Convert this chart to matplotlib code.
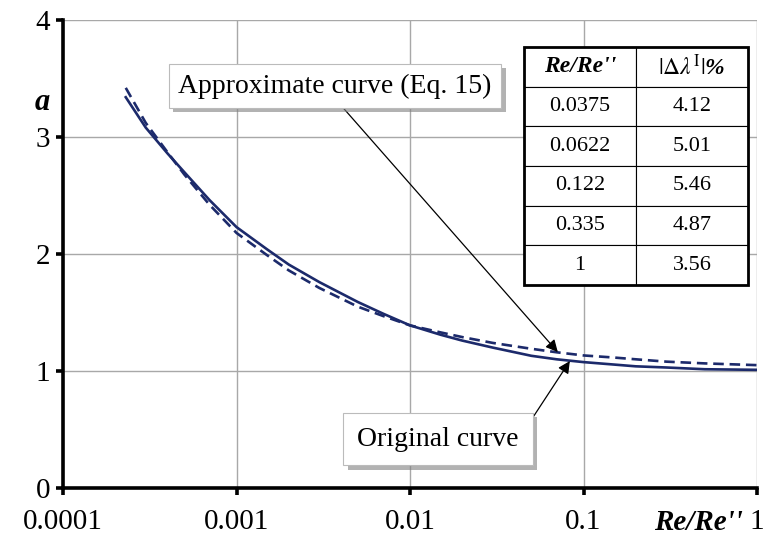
import numpy as np
import matplotlib
matplotlib.use('Agg')
import matplotlib.pyplot as plt
import matplotlib.patheffects as pe
from matplotlib.patches import Rectangle

plt.rcParams['font.family'] = 'Liberation Serif'
plt.rcParams['mathtext.fontset'] = 'stix'

# Original curve (solid) and approximate curve, Eq. 15 (dashed)
re_ratio = [2.3e-4, 3e-4, 4e-4, 5e-4, 7e-4, 1e-3, 1.5e-3, 2e-3, 3e-3, 5e-3,
            7e-3, 1e-2, 1.5e-2, 2e-2, 3e-2, 5e-2, 7e-2, 0.1, 0.15, 0.2,
            0.3, 0.5, 1.0]
a_original = [3.34, 3.08, 2.86, 2.70, 2.46, 2.23, 2.04, 1.91, 1.76, 1.59,
              1.49, 1.39, 1.31, 1.26, 1.20, 1.13, 1.10, 1.076, 1.055, 1.04,
              1.03, 1.015, 1.01]
a_approx = [3.42, 3.12, 2.87, 2.68, 2.42, 2.18, 1.99, 1.86, 1.71, 1.55,
            1.47, 1.39, 1.33, 1.29, 1.24, 1.19, 1.16, 1.133, 1.115, 1.10,
            1.08, 1.065, 1.05]

# Error table
table_re = ['0.0375', '0.0622', '0.122', '0.335', '1']
table_err = ['4.12', '5.01', '5.46', '4.87', '3.56']

x_ticks = [1e-4, 1e-3, 1e-2, 1e-1, 1]
x_labels = ['0.0001', '0.001', '0.01', '0.1', '1']
y_ticks = [0, 1, 2, 3, 4]

navy = '#1c2a6b'

fig = plt.figure(figsize=(7.64, 5.4), dpi=100)
ax = fig.add_axes([63 / 764, 52 / 540, 694 / 764, 468 / 540])

ax.plot(re_ratio, a_approx, color=navy, lw=1.9, ls=(0, (4, 2.2)), zorder=3)
ax.plot(re_ratio, a_original, color=navy, lw=1.9, zorder=3)

ax.set_xscale('log')
ax.set_xlim(1e-4, 1)
ax.set_ylim(0, 4)
ax.set_xticks(x_ticks)
ax.set_xticklabels(x_labels)
ax.set_yticks(y_ticks)
ax.minorticks_off()
ax.grid(True, color='#a8a8a8', lw=1.0)
ax.set_axisbelow(True)

for s in ['top', 'right']:
    ax.spines[s].set_visible(False)
for s in ['left', 'bottom']:
    ax.spines[s].set_linewidth(2.6)
ax.tick_params(axis='both', direction='out', length=5, width=2.6,
               labelsize=21, pad=4)
ax.tick_params(axis='x', pad=10)

# axis titles
ax.text(-0.019, 0.823, 'a', transform=ax.transAxes, fontsize=22,
        fontweight='bold', fontstyle='italic', ha='right', va='center')
fig.text(743 / 764, 1 - 523 / 540, "Re/Re''", fontsize=21,
         fontweight='bold', fontstyle='italic', ha='right', va='center')

# annotations
shadow = [pe.withSimplePatchShadow(offset=(3, -3), shadow_rgbFace='#808080',
                                   alpha=0.6)]
arrow = dict(arrowstyle='-|>', color='black', lw=0.9, mutation_scale=18,
             shrinkA=0, shrinkB=0)
ann1 = ax.annotate('Approximate curve (Eq. 15)', xy=(0.0711, 1.162),
                   xytext=(335, 540 - 86), textcoords='figure pixels',
                   fontsize=20, ha='center', va='center',
                   bbox=dict(boxstyle='square,pad=0.35', fc='white',
                             ec='#bbbbbb', lw=0.8),
                   arrowprops=dict(arrow, relpos=(0.5, 0)), zorder=5)
ann1.get_bbox_patch().set_path_effects(shadow)
ann2 = ax.annotate('Original curve', xy=(0.0834, 1.085),
                   xytext=(438, 540 - 439), textcoords='figure pixels',
                   fontsize=20, ha='center', va='center',
                   bbox=dict(boxstyle='square,pad=0.5', fc='white',
                             ec='#bbbbbb', lw=0.8),
                   arrowprops=dict(arrow, relpos=(1, 0.5)), zorder=5)
ann2.get_bbox_patch().set_path_effects(shadow)

# table
cell_text = [[r, e] for r, e in zip(table_re, table_err)]
tb = ax.table(cellText=cell_text,
              colLabels=["Re/Re''", r'$|\mathit{\Delta\lambda}^{\mathrm{I}}|$%'],
              cellLoc='center', bbox=[0.664, 0.434, 0.323, 0.508], zorder=6)
tb.auto_set_font_size(False)
for (r, c), cell in tb.get_celld().items():
    cell.set_linewidth(0.8)
    cell.set_edgecolor('black')
    cell.set_facecolor('white')
    cell.get_text().set_fontsize(16)
    if r == 0:
        cell.get_text().set_fontweight('bold')
        cell.get_text().set_fontstyle('italic')
        cell.get_text().set_fontsize(17)
ax.add_patch(Rectangle((0.664, 0.434), 0.323, 0.508, transform=ax.transAxes,
                       fill=False, ec='black', lw=2.0, zorder=7,
                       clip_on=False))

fig.savefig('out.png', dpi=100)
